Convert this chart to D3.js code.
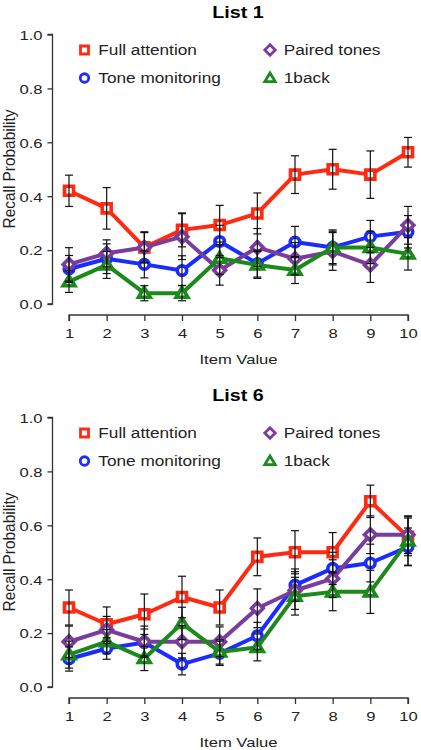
<!DOCTYPE html>
<html><head><meta charset="utf-8">
<script src="https://cdn.jsdelivr.net/npm/d3@7"></script>
<style>body{margin:0;background:#fff}svg{display:block}text{font-family:"Liberation Sans",Arial,sans-serif;fill:#222}</style>
</head><body>
<svg id="c" width="421" height="750"></svg>
<script>
const categories = [1,2,3,4,5,6,7,8,9,10];
const yTicks = [0,0.2,0.4,0.6,0.8,1.0];
const seriesNames = ["Full attention","Tone monitoring","Paired tones","1back"];
const seriesColors = ["#ff2a12","#1a2cff","#7a3d9c","#1a8a1a"];
const seriesShapes = ["square","circle","diamond","triangle"];

const list1_full = [0.42,0.355,0.21,0.275,0.293,0.336,0.48,0.50,0.48,0.563];
const list1_full_err = [0.058,0.077,0.058,0.063,0.073,0.076,0.07,0.074,0.088,0.055];
const list1_tone = [0.13,0.168,0.147,0.124,0.232,0.15,0.23,0.21,0.25,0.268];
const list1_tone_err = [0.05,0.055,0.05,0.055,0.06,0.05,0.058,0.06,0.06,0.06];
const list1_paired = [0.147,0.188,0.21,0.25,0.125,0.21,0.168,0.195,0.145,0.292];
const list1_paired_err = [0.062,0.05,0.055,0.085,0.055,0.07,0.06,0.07,0.065,0.07];
const list1_oneback = [0.083,0.145,0.04,0.04,0.17,0.145,0.126,0.21,0.21,0.186];
const list1_oneback_err = [0.04,0.05,0.028,0.028,0.06,0.05,0.05,0.065,0.06,0.06];

const list6_full = [0.295,0.233,0.27,0.334,0.295,0.483,0.5,0.5,0.689,0.557];
const list6_full_err = [0.065,0.064,0.075,0.077,0.065,0.07,0.08,0.073,0.06,0.07];
const list6_tone = [0.104,0.143,0.165,0.085,0.125,0.19,0.378,0.44,0.46,0.52];
const list6_tone_err = [0.045,0.04,0.05,0.04,0.045,0.05,0.06,0.06,0.07,0.07];
const list6_paired = [0.168,0.212,0.168,0.168,0.168,0.292,0.358,0.402,0.565,0.565];
const list6_paired_err = [0.058,0.05,0.058,0.06,0.055,0.072,0.07,0.07,0.07,0.07];
const list6_oneback = [0.12,0.168,0.106,0.236,0.13,0.147,0.337,0.353,0.353,0.542];
const list6_oneback_err = [0.05,0.045,0.045,0.06,0.045,0.05,0.07,0.07,0.08,0.09];

const panels = [
  {title:"List 1", top:0, values:[list1_full,list1_tone,list1_paired,list1_oneback], errs:[list1_full_err,list1_tone_err,list1_paired_err,list1_oneback_err]},
  {title:"List 6", top:383, values:[list6_full,list6_tone,list6_paired,list6_oneback], errs:[list6_full_err,list6_tone_err,list6_paired_err,list6_oneback_err]}
];

const svg = d3.select("#c");
const SX = 1.23;
const x = d3.scaleLinear().domain([1,10]).range([69,408]);

function shapePath(shape, s){
  const h = s/2;
  if(shape==="square") return `M${-h},${-h}H${h}V${h}H${-h}Z`;
  if(shape==="diamond") return `M0,${-h*1.3}L${h*1.3},0L0,${h*1.3}L${-h*1.3},0Z`;
  if(shape==="triangle") return `M0,${-h*1.25}L${h*1.3},${h*0.9}L${-h*1.3},${h*0.9}Z`;
  return null;
}
function addMarker(g, shape, cx, cy, s, color, sw){
  if(shape==="circle"){
    g.append("circle").attr("cx",cx).attr("cy",cy).attr("r",s/2).attr("fill","#fff").attr("stroke",color).attr("stroke-width",sw);
  } else {
    g.append("path").attr("d",shapePath(shape,s)).attr("transform",`translate(${cx},${cy})`).attr("fill","#fff").attr("stroke",color).attr("stroke-width",sw).attr("stroke-linejoin","miter");
  }
}
function stext(g, str, tx, ty, size, anchor, weight){
  return g.append("text").text(str).attr("transform",`translate(${tx},${ty}) scale(${SX},1)`)
    .attr("font-size",size).attr("text-anchor",anchor||"start").attr("font-weight",weight||"normal");
}

panels.forEach(p=>{
  const g = svg.append("g").attr("transform",`translate(0,${p.top})`);
  const y = d3.scaleLinear().domain([0,1]).range([304,34.5]);

  // title
  stext(g, p.title, 238, 17.5, 16, "middle", "bold").style("fill","#000");

  // y axis
  const ya = g.append("g").attr("transform","translate(52.5,0)")
    .call(d3.axisLeft(y).tickValues(yTicks).tickSize(5).tickPadding(0).tickFormat(d3.format(".1f")));
  ya.select(".domain").attr("stroke","#333").attr("stroke-width",1.3).attr("d",`M-5,${y(0)}H0V${y(1)}H-5`);
  ya.selectAll(".tick line").attr("stroke","#333").attr("stroke-width",1.3);
  ya.selectAll(".tick text").each(function(d){
    d3.select(this).attr("x",null).attr("dy",null).attr("font-size",13.5).attr("text-anchor","end")
     .attr("transform",`translate(-10,4.8) scale(${SX},1)`).style("fill","#222").attr("font-family",null);
  });

  // x axis
  const xa = g.append("g").attr("transform","translate(0,315)")
    .call(d3.axisBottom(x).tickValues(categories).tickSize(6).tickPadding(0).tickFormat(d3.format("d")));
  xa.select(".domain").attr("stroke","#333").attr("stroke-width",1.3).attr("d",`M${x(1)},6V0H${x(10)}V6`);
  xa.selectAll(".tick line").attr("stroke","#333").attr("stroke-width",1.3);
  xa.selectAll(".tick text").each(function(d){
    d3.select(this).attr("y",null).attr("dy",null).attr("font-size",13.5).attr("text-anchor","middle")
     .attr("transform",`translate(0,23.3) scale(${SX},1)`).style("fill","#222").attr("font-family",null);
  });

  // axis labels
  stext(g, "Item Value", 238.5, 363.5, 13.5, "middle");
  g.append("text").text("Recall Probability").attr("font-size",14).attr("text-anchor","middle")
    .attr("transform",`translate(14.5,169) rotate(-90) scale(1.1,${SX})`);

  // legend
  const legPos = [[84.5,50],[84.5,78],[270,50],[270,78]];
  seriesNames.forEach((name,i)=>{
    const [lx,ly] = legPos[i];
    addMarker(g, seriesShapes[i], lx, ly, seriesShapes[i]==="square"?8:(seriesShapes[i]==="circle"?8.5:8), seriesColors[i], 2.8);
    stext(g, name, lx+13.8, ly+5, 14, "start");
  });

  // series
  const line = d3.line().x((d,i)=>x(categories[i])).y(d=>y(d));
  p.values.forEach((vals,si)=>{
    const sg = g.append("g");
    sg.append("path").datum(vals).attr("d",line).attr("fill","none").attr("stroke",seriesColors[si]).attr("stroke-width",4).attr("stroke-linejoin","round");
    vals.forEach((v,i)=>{
      const s = seriesShapes[si]==="square"?9:(seriesShapes[si]==="circle"?9.5:9);
      addMarker(sg, seriesShapes[si], x(categories[i]), y(v), s, seriesColors[si], 3.6);
    });
  });
  // error bars
  const eg = g.append("g").attr("stroke","#111").attr("stroke-width",1.2);
  p.values.forEach((vals,si)=>{
    vals.forEach((v,i)=>{
      const cx = x(categories[i]), e = p.errs[si][i];
      const y1 = y(v+e), y2 = y(v-e);
      eg.append("line").attr("x1",cx).attr("x2",cx).attr("y1",y1).attr("y2",y2);
      eg.append("line").attr("x1",cx-4).attr("x2",cx+4).attr("y1",y1).attr("y2",y1);
      eg.append("line").attr("x1",cx-4).attr("x2",cx+4).attr("y1",y2).attr("y2",y2);
    });
  });
});
</script>
</body></html>
